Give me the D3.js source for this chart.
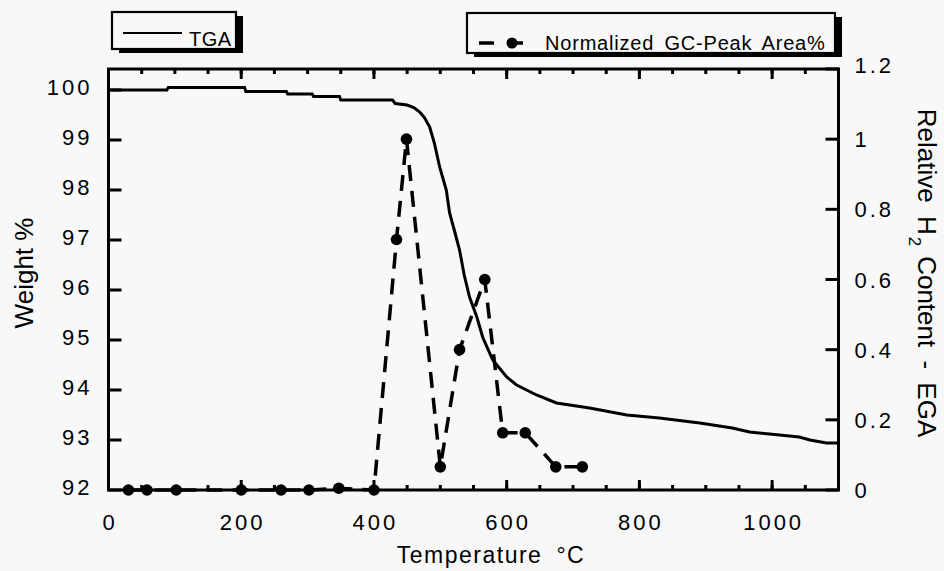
<!DOCTYPE html>
<html>
<head>
<meta charset="utf-8">
<script src="https://cdn.jsdelivr.net/npm/d3@7"></script>
<style>
  html, body { margin: 0; padding: 0; background: #f8f8f8; }
  svg { display: block; }
  text { font-family: "Liberation Sans", Arial, Helvetica, sans-serif; fill: #000; }
</style>
</head>
<body>
<svg id="chart" width="944" height="571"></svg>
<script>
// TGA weight-loss trace (temperature in °C, weight in %)
const tgaTemp   = [0, 88, 90, 205, 207, 268, 270, 307, 309, 348, 350, 428, 432, 450, 460, 469, 476, 484, 491, 499, 509, 514, 521, 529, 536, 544, 555, 564, 579, 600, 615, 645, 675, 725, 781, 830, 891, 940, 966, 1041, 1057, 1082, 1100];
const tgaWeight = [100.0, 100.0, 100.05, 100.05, 99.97, 99.97, 99.92, 99.92, 99.87, 99.87, 99.8, 99.8, 99.73, 99.7, 99.65, 99.56, 99.45, 99.26, 98.94, 98.46, 98.0, 97.54, 97.2, 96.8, 96.3, 95.86, 95.46, 95.05, 94.6, 94.26, 94.1, 93.9, 93.74, 93.64, 93.5, 93.44, 93.34, 93.24, 93.16, 93.06, 93.0, 92.94, 92.94];

// Evolved-gas analysis: normalized GC peak area for H2
const gcTemp = [30, 58, 102, 200, 260, 302, 347, 400, 434, 449, 500, 529, 567, 594, 628, 674, 714];
const gcArea = [0, 0, 0, 0, 0, 0, 0.005, 0, 0.714, 1.0, 0.066, 0.4, 0.6, 0.163, 0.163, 0.066, 0.066];

// Axis ticks and labels
const xMinorTicks   = d3.range(0, 1101, 50);
const xMajorTicks   = [0, 200, 400, 600, 800, 1000];
const xTickLabels   = ["0", "200", "400", "600", "800", "1000"];
const weightTicks   = [92, 93, 94, 95, 96, 97, 98, 99, 100];
const weightLabels  = ["92", "93", "94", "95", "96", "97", "98", "99", "100"];
const h2Ticks       = [0, 0.2, 0.4, 0.6, 0.8, 1.0, 1.2];
const h2Labels      = ["0", "0.2", "0.4", "0.6", "0.8", "1", "1.2"];

const svg = d3.select("#chart");
const plotL = 108.5, plotR = 838.5, plotT = 69, plotB = 490;

const x  = d3.scaleLinear().domain([0, 1100]).range([plotL, plotR]);
const yW = d3.scaleLinear().domain([92, 100.42]).range([plotB, plotT]);
const yH = d3.scaleLinear().domain([0, 1.2]).range([plotB, plotT]);

const tickStroke = 3;

// inward tick marks on all four sides
function xTicks(values, len) {
  svg.append("g").selectAll("line").data(values).join("line")
    .attr("x1", (d) => x(d)).attr("x2", (d) => x(d))
    .attr("y1", plotB).attr("y2", plotB - len)
    .attr("stroke", "#000").attr("stroke-width", tickStroke);
  svg.append("g").selectAll("line").data(values).join("line")
    .attr("x1", (d) => x(d)).attr("x2", (d) => x(d))
    .attr("y1", plotT).attr("y2", plotT + len)
    .attr("stroke", "#000").attr("stroke-width", tickStroke);
}
xTicks(xMinorTicks, 5);
xTicks(xMajorTicks, 10);

svg.append("g").selectAll("line").data(weightTicks).join("line")
  .attr("x1", plotL).attr("x2", plotL + 13)
  .attr("y1", (d) => yW(d)).attr("y2", (d) => yW(d))
  .attr("stroke", "#000").attr("stroke-width", tickStroke);

svg.append("g").selectAll("line").data(h2Ticks).join("line")
  .attr("x1", plotR).attr("x2", plotR - 13)
  .attr("y1", (d) => yH(d)).attr("y2", (d) => yH(d))
  .attr("stroke", "#000").attr("stroke-width", tickStroke);

// tick labels
const tickFont = { size: 22, spacing: "3px" };
svg.append("g").selectAll("text").data(xMajorTicks).join("text")
  .attr("x", (d) => x(d) + 1.5).attr("y", plotB + 40)
  .attr("text-anchor", "middle")
  .attr("font-size", tickFont.size).attr("letter-spacing", tickFont.spacing)
  .text((d, i) => xTickLabels[i]);

svg.append("g").selectAll("text").data(weightTicks).join("text")
  .attr("x", plotL - 16).attr("y", (d) => yW(d) + 5)
  .attr("text-anchor", "end")
  .attr("font-size", tickFont.size).attr("letter-spacing", tickFont.spacing)
  .text((d, i) => weightLabels[i]);

svg.append("g").selectAll("text").data(h2Ticks).join("text")
  .attr("x", plotR + 16).attr("y", (d) => yH(d) + (d === 1.2 ? 4 : 8))
  .attr("text-anchor", "start")
  .attr("font-size", tickFont.size).attr("letter-spacing", tickFont.spacing)
  .text((d, i) => h2Labels[i]);

// plot frame
svg.append("rect")
  .attr("x", plotL).attr("y", plotT)
  .attr("width", plotR - plotL).attr("height", plotB - plotT)
  .attr("fill", "none").attr("stroke", "#000").attr("stroke-width", 3);

// TGA curve
const tgaLine = d3.line().x((d, i) => x(tgaTemp[i])).y((d, i) => yW(tgaWeight[i]));
svg.append("path")
  .datum(tgaTemp)
  .attr("d", tgaLine)
  .attr("fill", "none").attr("stroke", "#000").attr("stroke-width", 3)
  .attr("stroke-linejoin", "miter");

// GC peak area: dashed line with dots
const gcLine = d3.line().x((d, i) => x(gcTemp[i])).y((d, i) => yH(gcArea[i]));
svg.append("path")
  .datum(gcTemp)
  .attr("d", gcLine)
  .attr("fill", "none").attr("stroke", "#000").attr("stroke-width", 3.5)
  .attr("stroke-dasharray", "16,10");
svg.append("g").selectAll("circle")
  .data(gcTemp)
  .join("circle")
  .attr("cx", (d) => x(d))
  .attr("cy", (d, i) => yH(gcArea[i]))
  .attr("r", 5.8)
  .attr("fill", "#000");

// axis titles
svg.append("text")
  .attr("transform", "translate(33,273) rotate(-90)")
  .attr("text-anchor", "middle")
  .attr("font-size", 26)
  .text("Weight %");

const rt = svg.append("text")
  .attr("transform", "translate(918,273) rotate(90)")
  .attr("text-anchor", "middle")
  .attr("font-size", 26)
  .attr("word-spacing", "6px");
rt.append("tspan").text("Relative H");
rt.append("tspan").attr("font-size", 17).attr("dy", 9).attr("dx", 2).text("2");
rt.append("tspan").attr("dy", -9).attr("dx", 10).text("Content - EGA");

const xt = svg.append("text")
  .attr("x", 491).attr("y", 563)
  .attr("text-anchor", "middle")
  .attr("font-size", 23)
  .attr("letter-spacing", "1.5px");
xt.append("tspan").text("Temperature");
xt.append("tspan").attr("dx", 14).text("°C");

// legends (boxed, with drop shadow)
function legendBox(x0, y0, w, h) {
  const g = svg.append("g");
  g.append("rect").attr("x", x0 + 7).attr("y", y0 + 4).attr("width", w).attr("height", h).attr("fill", "#000");
  g.append("rect").attr("x", x0).attr("y", y0).attr("width", w).attr("height", h)
    .attr("fill", "#f8f8f8").attr("stroke", "#000").attr("stroke-width", 2.2);
  return g;
}

const lg1 = legendBox(112, 12, 124, 37);
lg1.append("line").attr("x1", 123).attr("x2", 182).attr("y1", 33).attr("y2", 33)
  .attr("stroke", "#000").attr("stroke-width", 2.2);
lg1.append("text").attr("x", 189).attr("y", 46).attr("font-size", 20).attr("letter-spacing", "0.5px").text("TGA");

const lg2 = legendBox(467, 13, 368, 40);
lg2.append("line").attr("x1", 479).attr("x2", 494).attr("y1", 43).attr("y2", 43)
  .attr("stroke", "#000").attr("stroke-width", 3.5);
lg2.append("line").attr("x1", 512).attr("x2", 523).attr("y1", 43).attr("y2", 43)
  .attr("stroke", "#000").attr("stroke-width", 3.5);
lg2.append("circle").attr("cx", 512).attr("cy", 43).attr("r", 5.5).attr("fill", "#000");
lg2.append("text").attr("x", 545).attr("y", 50).attr("font-size", 20)
  .attr("letter-spacing", "0.8px").attr("word-spacing", "4px")
  .text("Normalized GC-Peak Area%");
</script>
</body>
</html>
